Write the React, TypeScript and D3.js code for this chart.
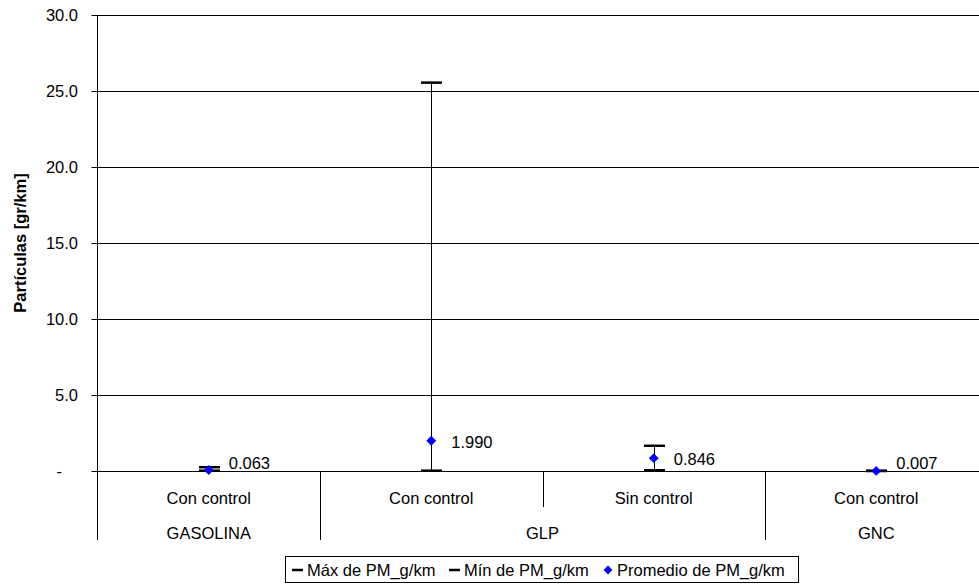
import React from "react";
import * as d3 from "d3";

const categories = ["Con control", "Con control", "Sin control", "Con control"];
const groupOf = ["GASOLINA", "GLP", "GLP", "GNC"];
const maxVals = [0.25, 25.55, 1.66, 0.012];
const minVals = [0.02, 0.02, 0.05, 0.003];
const meanVals = [0.063, 1.99, 0.846, 0.007];
const yTicks = [0, 5, 10, 15, 20, 25, 30];
const legendLabels = ["Máx de PM_g/km", "Mín de PM_g/km", "Promedio de PM_g/km"];
const yTitle = "Partículas [gr/km]";

const W = 979;
const H = 584;
const FONT = "'Liberation Sans', Arial, Helvetica, sans-serif";

export default function App() {
  const left = 97.5;
  const right = 987.5;
  const top = 15;
  const bottom = 471;
  const x = d3
    .scaleBand<number>()
    .domain(categories.map((_, i) => i))
    .range([left, right])
    .padding(0);
  const y = d3.scaleLinear().domain([0, 30]).range([bottom, top]);
  const bw = x.bandwidth();
  const fmt = (v: number) => (v === 0 ? "-" : d3.format(".1f")(v));

  // group extents
  const groups: { name: string; start: number; end: number }[] = [];
  groupOf.forEach((g, i) => {
    const last = groups[groups.length - 1];
    if (last && last.name === g) last.end = i;
    else groups.push({ name: g, start: i, end: i });
  });

  const diamond = d3.symbol().type(d3.symbolDiamond2).size(62)();
  const legDiamond = d3.symbol().type(d3.symbolDiamond2).size(50)();

  return (
    <svg
      width={W}
      height={H}
      style={{ position: "absolute", left: 0, top: 0, background: "#fff" }}
      fontFamily={FONT}
    >
      <rect x={0} y={0} width={W} height={H} fill="#fff" />
      {/* gridlines + ticks */}
      {yTicks.map((t) => (
        <g key={t}>
          <line
            x1={left - 6}
            x2={right}
            y1={Math.round(y(t)) + 0.5}
            y2={Math.round(y(t)) + 0.5}
            stroke="#000"
            strokeWidth={1}
          />
          <text
            x={t === 0 ? 62 : 78}
            y={y(t)}
            dy="0.35em"
            textAnchor="end"
            fontSize={16.5}
            fill="#000"
          >
            {fmt(t)}
          </text>
        </g>
      ))}
      {/* y axis line */}
      <line x1={left} x2={left} y1={top} y2={540} stroke="#000" strokeWidth={1} />
      {/* category separators */}
      {categories.map((_, i) => {
        if (i === 0) return null;
        const xx = Math.round(x(i) as number) + 0.5;
        const groupBoundary = groupOf[i] !== groupOf[i - 1];
        return (
          <line
            key={i}
            x1={xx}
            x2={xx}
            y1={bottom}
            y2={groupBoundary ? 540 : 507}
            stroke="#000"
            strokeWidth={1}
          />
        );
      })}
      {/* category labels */}
      {categories.map((c, i) => (
        <text
          key={i}
          x={(x(i) as number) + bw / 2}
          y={498}
          dy="0.35em"
          textAnchor="middle"
          fontSize={16.5}
          fill="#000"
        >
          {c}
        </text>
      ))}
      {groups.map((g) => (
        <text
          key={g.name}
          x={((x(g.start) as number) + (x(g.end) as number) + bw) / 2}
          y={533}
          dy="0.35em"
          textAnchor="middle"
          fontSize={16.5}
          fill="#000"
        >
          {g.name}
        </text>
      ))}
      {/* error bars */}
      {categories.map((_, i) => {
        const cx = Math.round((x(i) as number) + bw / 2) + 0.5;
        return (
          <g key={i}>
            <line x1={cx} x2={cx} y1={y(minVals[i])} y2={y(maxVals[i])} stroke="#000" strokeWidth={1} />
            <line x1={cx - 10.5} x2={cx + 10.5} y1={y(maxVals[i])} y2={y(maxVals[i])} stroke="#000" strokeWidth={2.5} />
            <line x1={cx - 10.5} x2={cx + 10.5} y1={y(minVals[i])} y2={y(minVals[i])} stroke="#000" strokeWidth={2.5} />
          </g>
        );
      })}
      {/* means */}
      {meanVals.map((v, i) => {
        const cx = (x(i) as number) + bw / 2;
        const cy = y(v);
        return (
          <g key={i}>
            <path d={diamond as string} transform={`translate(${cx},${cy})`} fill="#0000ff" />
            <text x={cx + 20} y={Math.min(cy + 7, bottom - 2)} fontSize={16.5} fill="#000">
              {d3.format(".3f")(v)}
            </text>
          </g>
        );
      })}
      {/* y title */}
      <text
        transform={`translate(26,${(top + bottom) / 2}) rotate(-90)`}
        textAnchor="middle"
        fontSize={16.5}
        fontWeight="bold"
        fill="#000"
      >
        {yTitle}
      </text>
      {/* legend */}
      <rect x={285.5} y={556.5} width={513} height={26} fill="#fff" stroke="#000" strokeWidth={1} />
      <line x1={292} x2={303} y1={570} y2={570} stroke="#000" strokeWidth={2.5} />
      <text x={307} y={570} dy="0.35em" fontSize={16.5} fill="#000">{legendLabels[0]}</text>
      <line x1={449} x2={460} y1={570} y2={570} stroke="#000" strokeWidth={2.5} />
      <text x={464} y={570} dy="0.35em" fontSize={16.5} fill="#000">{legendLabels[1]}</text>
      <path d={legDiamond as string} transform="translate(608,570)" fill="#0000ff" />
      <text x={617} y={570} dy="0.35em" fontSize={16.5} fill="#000">{legendLabels[2]}</text>
    </svg>
  );
}
